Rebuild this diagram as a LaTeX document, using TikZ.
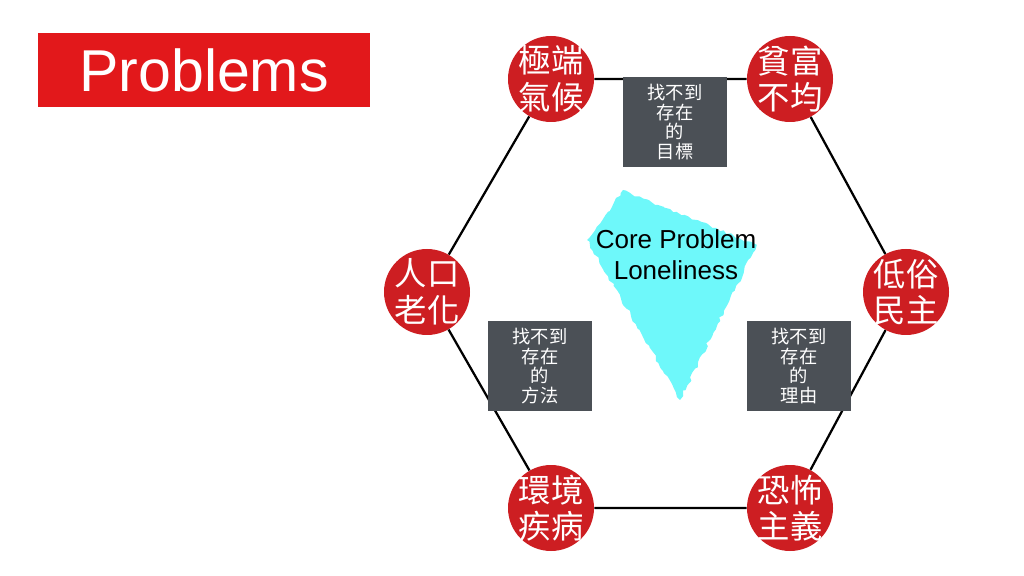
\documentclass[tikz,border=0pt]{standalone}
\usepackage{fontspec}
\setmainfont{Liberation Sans}
\newfontfamily\cjk{Noto Sans CJK TC}
\usetikzlibrary{positioning,decorations.pathmorphing}

\definecolor{probred}{RGB}{226,24,27}
\definecolor{dotred}{RGB}{205,30,34}
\definecolor{boxgray}{RGB}{75,80,86}
\definecolor{corecyan}{RGB}{110,248,250}

\begin{document}
\begin{tikzpicture}[x=0.025cm,y=-0.025cm]

  \tikzstyle{every node}=[font=\normalsize]

  \tikzset{problem/.style={circle,fill=dotred,minimum size=86*0.025cm,inner sep=-10pt,
      text=white,align=center,font=\cjk\fontsize{23}{26}\selectfont}}
  \tikzset{reason/.style={fill=boxgray,minimum width=104*0.025cm,minimum height=90*0.025cm,
      inner sep=0pt,text=white,align=center,font=\cjk\fontsize{13}{14}\selectfont}}
  \tikzset{link/.style={draw=black,line width=1.6pt}}

  \useasboundingbox (0,0) rectangle (1024,576);

  % Title
  \node[fill=probred,minimum width=332*0.025cm,minimum height=74*0.025cm,text=white,
        font=\fontsize{42}{46}\selectfont] (title) at (204,70) {Problems};

  % Problems
  \node[problem] (climate) at (551,79) {極端\\氣候};
  \node[problem] (wealth) at (790,79) {貧富\\不均};
  \node[problem] (democracy) at (906,292) {低俗\\民主};
  \node[problem] (terror) at (790,508) {恐怖\\主義};
  \node[problem] (disease) at (551,508) {環境\\疾病};
  \node[problem] (ageing) at (427,292) {人口\\老化};

  % Hexagon
  \draw[link] (climate) -- (wealth) -- (democracy) -- (terror) -- (disease) -- (ageing) -- (climate);

  % Core problem
  \fill[corecyan,decorate,decoration={random steps,segment length=3pt,amplitude=1.2pt}]
    (623,190) -- (757,245) -- (680,400) -- (587,240) -- cycle;
  \node[font=\fontsize{18.5}{22}\selectfont,align=center] (core) at (676,255)
    {Core Problem\\Loneliness};

  % Reasons
  \node[reason] (goal) at (675,122) {找不到\\存在\\的\\目標};
  \node[reason] (method) at (540,366) {找不到\\存在\\的\\方法};
  \node[reason] (reason) at (799,366) {找不到\\存在\\的\\理由};

\end{tikzpicture}
\end{document}
